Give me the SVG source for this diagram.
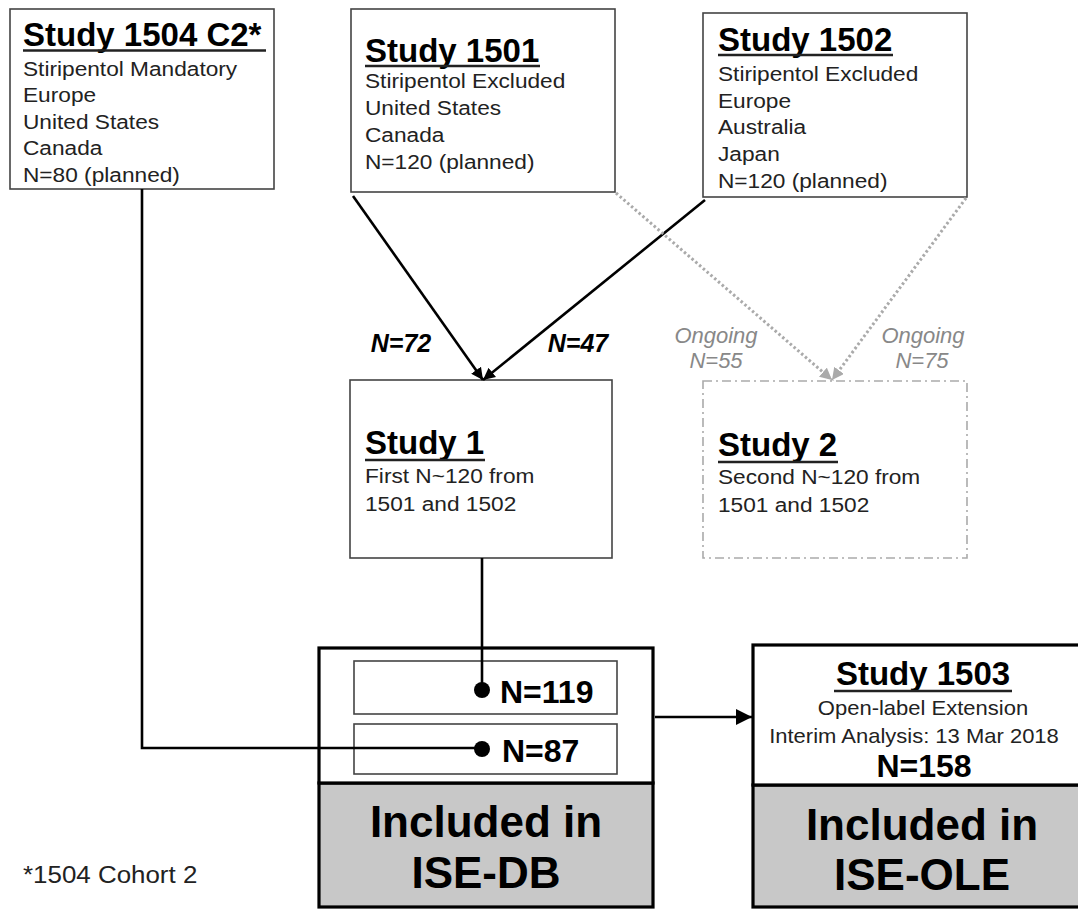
<svg xmlns="http://www.w3.org/2000/svg" width="1078" height="909" viewBox="0 0 1078 909">
<defs>
<style>
.box{fill:#fff;stroke:#444;stroke-width:1.6}
.thick{fill:#fff;stroke:#000;stroke-width:3.2}
.gray{fill:#c8c8c8;stroke:#000;stroke-width:3.2}
.dash{fill:#fff;stroke:#aaa;stroke-width:1.6;stroke-dasharray:9 4 2 4}
.ttl{font-family:"Liberation Sans",Arial,sans-serif;font-weight:bold;font-size:33px;fill:#000}
.ul{stroke:#222;stroke-width:2.4}
.b{font-family:"Liberation Sans",Arial,sans-serif;font-size:21px;fill:#222;transform-box:fill-box;transform-origin:0 0;transform:scaleX(1.08)}
.bc{font-family:"Liberation Sans",Arial,sans-serif;font-size:20px;fill:#222;text-anchor:middle;transform-box:fill-box;transform-origin:50% 0;transform:scaleX(1.1)}
.n{font-family:"Liberation Sans",Arial,sans-serif;font-weight:bold;font-size:32px;fill:#000}
.big{font-family:"Liberation Sans",Arial,sans-serif;font-weight:bold;font-size:44px;fill:#000;text-anchor:middle}
.lbl{font-family:"Liberation Sans",Arial,sans-serif;font-weight:bold;font-style:italic;font-size:25px;fill:#000;text-anchor:middle}
.og{font-family:"Liberation Sans",Arial,sans-serif;font-style:italic;font-size:22px;fill:#888;text-anchor:middle}
.con{fill:none;stroke:#000;stroke-width:2.6}
.dot{fill:none;stroke:#aaa;stroke-width:3;stroke-dasharray:2.5 2.5}
</style>
<marker id="ah" viewBox="0 0 10 10" refX="10" refY="5" markerWidth="12" markerHeight="12" markerUnits="userSpaceOnUse" orient="auto">
<path d="M0,0 L10,5 L0,10 z" fill="#000"/>
</marker>
<marker id="ahg" viewBox="0 0 10 10" refX="10" refY="5" markerWidth="12" markerHeight="12" markerUnits="userSpaceOnUse" orient="auto">
<path d="M0,0 L10,5 L0,10 z" fill="#aaa"/>
</marker>
<marker id="ahb" viewBox="0 0 10 10" refX="10" refY="5" markerWidth="17" markerHeight="16" markerUnits="userSpaceOnUse" orient="auto">
<path d="M0,0 L10,5 L0,10 z" fill="#000"/>
</marker>
</defs>
<rect width="1078" height="909" fill="#fff"/>

<g id="study1504">
<rect class="box" x="10" y="9" width="264" height="180"/>
<text class="ttl" x="23" y="46">Study 1504 C2*</text>
<line class="ul" x1="23" y1="50.5" x2="266" y2="50.5"/>
<text class="b" x="23" y="76">Stiripentol Mandatory</text>
<text class="b" x="23" y="102.5">Europe</text>
<text class="b" x="23" y="129">United States</text>
<text class="b" x="23" y="155.5">Canada</text>
<text class="b" x="23" y="182">N=80 (planned)</text>
</g>

<g id="study1501">
<rect class="box" x="351" y="9" width="264" height="183"/>
<text class="ttl" x="365" y="62">Study 1501</text>
<line class="ul" x1="365" y1="66" x2="540" y2="66"/>
<text class="b" x="365" y="88.5">Stiripentol Excluded</text>
<text class="b" x="365" y="115.5">United States</text>
<text class="b" x="365" y="142.5">Canada</text>
<text class="b" x="365" y="169.5">N=120 (planned)</text>
</g>

<g id="study1502">
<rect class="box" x="703" y="13" width="264" height="184"/>
<text class="ttl" x="718" y="51">Study 1502</text>
<line class="ul" x1="718" y1="55" x2="893" y2="55"/>
<text class="b" x="718" y="81">Stiripentol Excluded</text>
<text class="b" x="718" y="108">Europe</text>
<text class="b" x="718" y="134.5">Australia</text>
<text class="b" x="718" y="161.5">Japan</text>
<text class="b" x="718" y="188">N=120 (planned)</text>
</g>

<g id="study1">
<rect class="box" x="350" y="380" width="262" height="178"/>
<text class="ttl" x="365" y="454">Study 1</text>
<line class="ul" x1="365" y1="460" x2="485" y2="460"/>
<text class="b" x="365" y="483">First N~120 from</text>
<text class="b" x="365" y="511">1501 and 1502</text>
</g>

<g id="study2">
<rect class="dash" x="703" y="381" width="264" height="177"/>
<text class="ttl" x="718" y="456">Study 2</text>
<line class="ul" x1="718" y1="462" x2="838" y2="462"/>
<text class="b" x="718" y="484">Second N~120 from</text>
<text class="b" x="718" y="512">1501 and 1502</text>
</g>

<g id="ise-db">
<rect class="gray" x="319" y="783" width="334" height="124"/>
<rect class="thick" x="319" y="648" width="334" height="135"/>
<rect class="box" x="354" y="661" width="263" height="53"/>
<rect class="box" x="354" y="724" width="263" height="50"/>
<text class="n" x="500" y="703">N=119</text>
<text class="n" x="502" y="762">N=87</text>
<text class="big" x="486" y="837">Included in</text>
<text class="big" x="486" y="888">ISE-DB</text>
</g>

<g id="study1503">
<rect class="gray" x="753" y="785" width="340" height="122"/>
<rect class="thick" x="753" y="645" width="340" height="140"/>
<text class="ttl" x="923" y="685" text-anchor="middle">Study 1503</text>
<line class="ul" x1="834" y1="691" x2="1012" y2="691"/>
<text class="bc" x="923" y="715">Open-label Extension</text>
<text class="bc" x="914" y="743">Interim Analysis: 13 Mar 2018</text>
<text class="n" x="924" y="777" text-anchor="middle">N=158</text>
<text class="big" x="922" y="840">Included in</text>
<text class="big" x="922" y="890">ISE-OLE</text>
</g>

<g id="footnote">
<text class="b" x="23" y="883" style="font-size:24px">*1504 Cohort 2</text>
</g>

<g id="connectors">
<path class="con" d="M142,189 V748 H482"/>
<path class="con" d="M482,558 V690"/>
<circle cx="482" cy="690" r="8" fill="#000"/>
<circle cx="482" cy="749" r="8" fill="#000"/>
<line class="con" x1="353" y1="196" x2="483" y2="380" marker-end="url(#ah)"/>
<line class="con" x1="705" y1="200" x2="483" y2="380" marker-end="url(#ah)"/>
<line class="dot" x1="616" y1="193" x2="832" y2="380" marker-end="url(#ahg)"/>
<line class="dot" x1="966" y1="198" x2="832" y2="380" marker-end="url(#ahg)"/>
<line class="con" x1="655" y1="717" x2="752" y2="717" marker-end="url(#ahb)"/>
<text class="lbl" x="401" y="352">N=72</text>
<text class="lbl" x="578" y="352">N=47</text>
<text class="og" x="716" y="343">Ongoing</text>
<text class="og" x="716" y="368">N=55</text>
<text class="og" x="923" y="343">Ongoing</text>
<text class="og" x="922" y="368">N=75</text>
</g>
</svg>
